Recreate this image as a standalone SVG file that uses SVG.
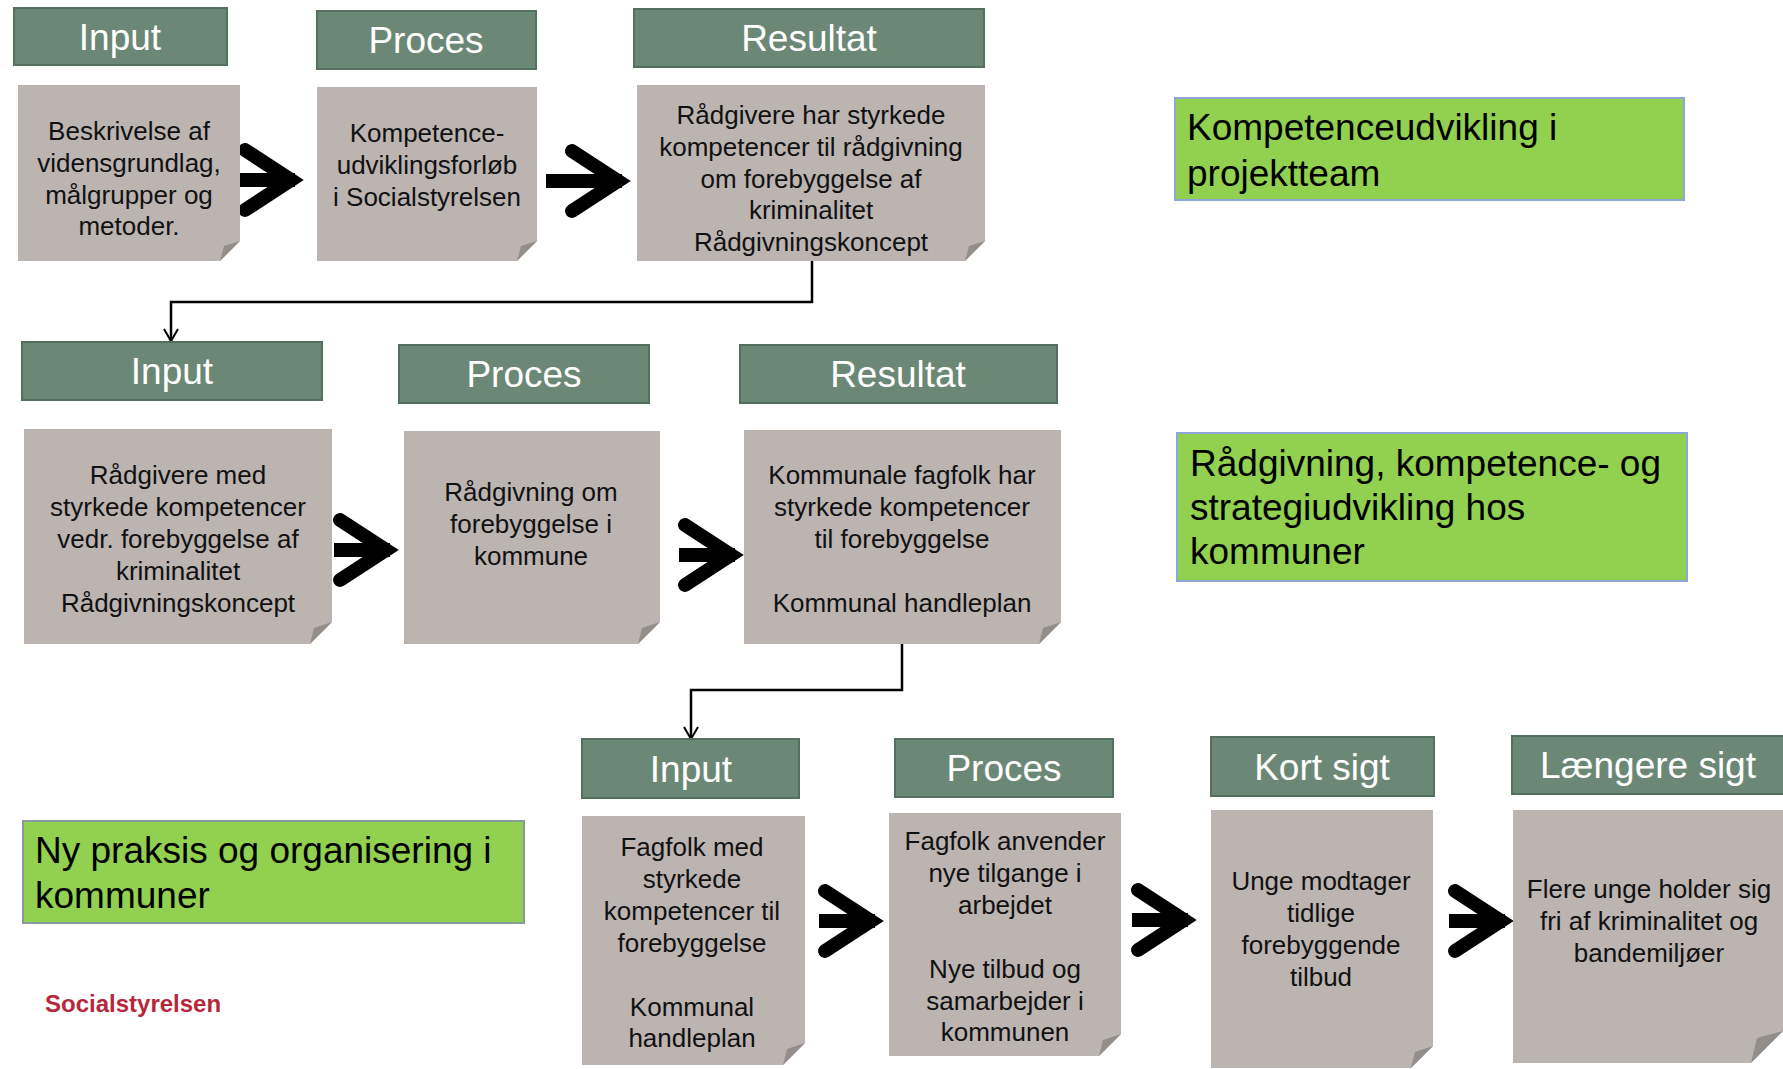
<svg xmlns="http://www.w3.org/2000/svg" width="1783" height="1069" viewBox="0 0 1783 1069">
<style>
.hdr{fill:#6b8876;stroke:#536f5e;stroke-width:2}
.hdrt{font-family:"Liberation Sans",Arial,sans-serif;font-size:37px;fill:#ffffff;text-anchor:middle}
.body{fill:#bbb4b1}
.fold{fill:#948e8b}
.bt{font-family:"Liberation Sans",Arial,sans-serif;font-size:26px;fill:#111111;text-anchor:middle}
.grn{fill:#92d050;stroke:#8ea7d6;stroke-width:2}
.gt{font-family:"Liberation Sans",Arial,sans-serif;font-size:37px;fill:#000000}
.conn{fill:none;stroke:#000000;stroke-width:2.5}
.shaft{fill:none;stroke:#000000;stroke-width:14}
.arms{fill:none;stroke:#000000;stroke-width:14;stroke-linecap:round;stroke-linejoin:miter;stroke-miterlimit:10}
</style>
<defs>
<marker id="open" markerWidth="16" markerHeight="16" refX="13" refY="8" orient="auto" markerUnits="userSpaceOnUse">
<path d="M1,1 L13,8 L1,15" fill="none" stroke="#000000" stroke-width="2"/>
</marker>
<g id="chev">
<path class="shaft" d="M-66 0 H-10"/>
<path class="arms" d="M-60 -30 L-14 0 L-60 30"/>
</g>
</defs>
<rect width="1783" height="1069" fill="#ffffff"/>

<g id="connectors">
<path class="conn" d="M812 261 V302 H171 V341" marker-end="url(#open)"/>
<path class="conn" d="M902 644 V690 H691 V739" marker-end="url(#open)"/>
<use href="#chev" x="305" y="180"/>
<path class="shaft" d="M546 181 H620"/>
<use href="#chev" x="632" y="181"/>
<use href="#chev" x="400" y="550"/>
<use href="#chev" x="745" y="555"/>
<use href="#chev" x="885" y="921"/>
<use href="#chev" x="1198" y="920"/>
<use href="#chev" x="1515" y="921"/>
</g>

<!-- Row 1 -->
<g id="r1-input-h"><rect class="hdr" x="14" y="8" width="213" height="57"/><text class="hdrt" x="120" y="50">Input</text></g>
<g id="r1-proces-h"><rect class="hdr" x="317" y="11" width="219" height="58"/><text class="hdrt" x="426" y="53">Proces</text></g>
<g id="r1-resultat-h"><rect class="hdr" x="634" y="9" width="350" height="58"/><text class="hdrt" x="809" y="51">Resultat</text></g>

<g id="r1-input-b"><polygon class="body" points="18,85 240,85 240,241 220,261 18,261"/><polygon class="fold" points="240,241 220,261 224,246"/>
<text class="bt" x="129" y="140">Beskrivelse af</text><text class="bt" x="129" y="172">vidensgrundlag,</text><text class="bt" x="129" y="204">målgrupper og</text><text class="bt" x="129" y="235">metoder.</text></g>
<g id="r1-proces-b"><polygon class="body" points="317,87 537,87 537,241 517,261 317,261"/><polygon class="fold" points="537,241 517,261 521,246"/>
<text class="bt" x="427" y="142">Kompetence-</text><text class="bt" x="427" y="174">udviklingsforløb</text><text class="bt" x="427" y="206">i Socialstyrelsen</text></g>
<g id="r1-resultat-b"><polygon class="body" points="637,85 985,85 985,241 965,261 637,261"/><polygon class="fold" points="985,241 965,261 969,246"/>
<text class="bt" x="811" y="124">Rådgivere har styrkede</text><text class="bt" x="811" y="156">kompetencer til rådgivning</text><text class="bt" x="811" y="188">om forebyggelse af</text><text class="bt" x="811" y="219">kriminalitet</text><text class="bt" x="811" y="251">Rådgivningskoncept</text></g>

<!-- Row 2 -->
<g id="r2-input-h"><rect class="hdr" x="22" y="342" width="300" height="58"/><text class="hdrt" x="172" y="384">Input</text></g>
<g id="r2-proces-h"><rect class="hdr" x="399" y="345" width="250" height="58"/><text class="hdrt" x="524" y="387">Proces</text></g>
<g id="r2-resultat-h"><rect class="hdr" x="740" y="345" width="317" height="58"/><text class="hdrt" x="898" y="387">Resultat</text></g>

<g id="r2-input-b"><polygon class="body" points="24,429 332,429 332,622 310,644 24,644"/><polygon class="fold" points="332,622 310,644 314,628"/>
<text class="bt" x="178" y="484">Rådgivere med</text><text class="bt" x="178" y="516">styrkede kompetencer</text><text class="bt" x="178" y="548">vedr. forebyggelse af</text><text class="bt" x="178" y="580">kriminalitet</text><text class="bt" x="178" y="612">Rådgivningskoncept</text></g>
<g id="r2-proces-b"><polygon class="body" points="404,431 660,431 660,622 638,644 404,644"/><polygon class="fold" points="660,622 638,644 642,628"/>
<text class="bt" x="531" y="501">Rådgivning om</text><text class="bt" x="531" y="533">forebyggelse i</text><text class="bt" x="531" y="565">kommune</text></g>
<g id="r2-resultat-b"><polygon class="body" points="744,430 1061,430 1061,622 1039,644 744,644"/><polygon class="fold" points="1061,622 1039,644 1043,628"/>
<text class="bt" x="902" y="484">Kommunale fagfolk har</text><text class="bt" x="902" y="516">styrkede kompetencer</text><text class="bt" x="902" y="548">til forebyggelse</text><text class="bt" x="902" y="612">Kommunal handleplan</text></g>

<!-- Row 3 -->
<g id="r3-input-h"><rect class="hdr" x="582" y="739" width="217" height="59"/><text class="hdrt" x="691" y="782">Input</text></g>
<g id="r3-proces-h"><rect class="hdr" x="895" y="739" width="218" height="58"/><text class="hdrt" x="1004" y="781">Proces</text></g>
<g id="r3-kort-h"><rect class="hdr" x="1211" y="737" width="223" height="59"/><text class="hdrt" x="1322" y="780">Kort sigt</text></g>
<g id="r3-laengere-h"><rect class="hdr" x="1512" y="736" width="280" height="58"/><text class="hdrt" x="1648" y="778">Længere sigt</text></g>

<g id="r3-input-b"><polygon class="body" points="582,816 805,816 805,1043 783,1065 582,1065"/><polygon class="fold" points="805,1043 783,1065 787,1049"/>
<text class="bt" x="692" y="856">Fagfolk med</text><text class="bt" x="692" y="888">styrkede</text><text class="bt" x="692" y="920">kompetencer til</text><text class="bt" x="692" y="952">forebyggelse</text><text class="bt" x="692" y="1016">Kommunal</text><text class="bt" x="692" y="1047">handleplan</text></g>
<g id="r3-proces-b"><polygon class="body" points="889,813 1121,813 1121,1034 1099,1056 889,1056"/><polygon class="fold" points="1121,1034 1099,1056 1103,1040"/>
<text class="bt" x="1005" y="850">Fagfolk anvender</text><text class="bt" x="1005" y="882">nye tilgange i</text><text class="bt" x="1005" y="914">arbejdet</text><text class="bt" x="1005" y="978">Nye tilbud og</text><text class="bt" x="1005" y="1010">samarbejder i</text><text class="bt" x="1005" y="1041">kommunen</text></g>
<g id="r3-kort-b"><polygon class="body" points="1211,810 1433,810 1433,1046 1411,1068 1211,1068"/><polygon class="fold" points="1433,1046 1411,1068 1415,1052"/>
<text class="bt" x="1321" y="890">Unge modtager</text><text class="bt" x="1321" y="922">tidlige</text><text class="bt" x="1321" y="954">forebyggende</text><text class="bt" x="1321" y="986">tilbud</text></g>
<g id="r3-laengere-b"><polygon class="body" points="1513,810 1783,810 1783,1031 1751,1063 1513,1063"/><polygon class="fold" points="1783,1031 1751,1063 1757,1038"/>
<text class="bt" x="1649" y="898">Flere unge holder sig</text><text class="bt" x="1649" y="930">fri af kriminalitet og</text><text class="bt" x="1649" y="962">bandemiljøer</text></g>

<!-- Green labels -->
<g id="lbl-projektteam"><rect class="grn" x="1175" y="98" width="509" height="102"/><text class="gt" x="1187" y="140">Kompetenceudvikling i</text><text class="gt" x="1187" y="186">projektteam</text></g>
<g id="lbl-kommuner"><rect class="grn" x="1177" y="433" width="510" height="148"/><text class="gt" x="1190" y="476">Rådgivning, kompetence- og</text><text class="gt" x="1190" y="520">strategiudvikling hos</text><text class="gt" x="1190" y="564">kommuner</text></g>
<g id="lbl-praksis"><rect class="grn" x="23" y="821" width="501" height="102" style="stroke:#8a9a9a"/><text class="gt" x="35" y="863">Ny praksis og organisering i</text><text class="gt" x="35" y="908">kommuner</text></g>

<text x="45" y="1012" font-family="Liberation Sans, Arial, sans-serif" font-size="24" font-weight="bold" fill="#b5283a">Socialstyrelsen</text>
</svg>
